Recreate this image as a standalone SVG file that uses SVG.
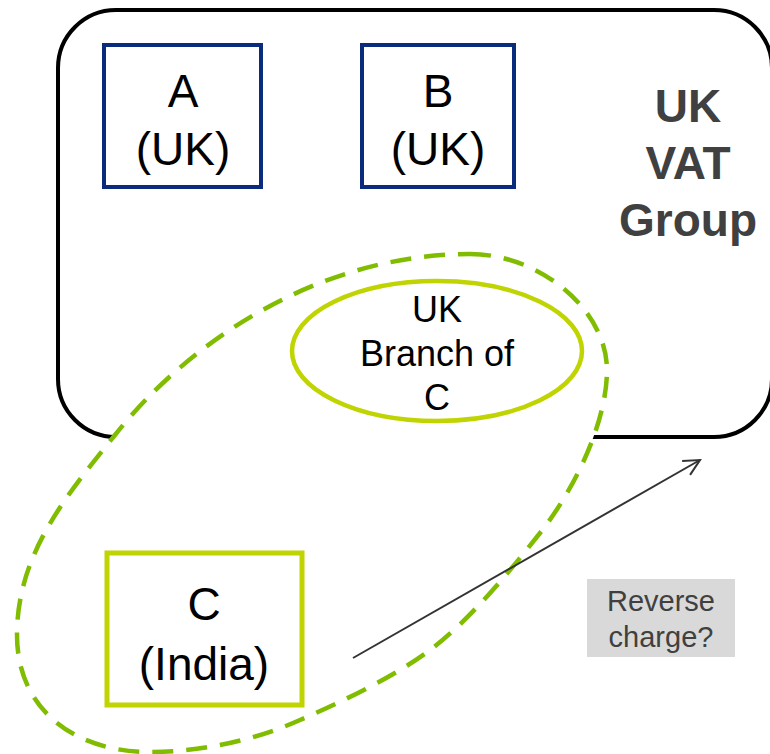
<svg xmlns="http://www.w3.org/2000/svg" width="770" height="754" viewBox="0 0 770 754">
<style>
.ent{fill:#fff;stroke:#0B2C7C;stroke-width:4}
.lbl{font-family:"Liberation Sans",Arial,sans-serif;fill:#000;text-anchor:middle}
.big{font-size:46px}
.mid{font-size:36px}
.grp{font-family:"Liberation Sans",Arial,sans-serif;font-size:46px;font-weight:bold;fill:#404040;text-anchor:middle}
.note{font-family:"Liberation Sans",Arial,sans-serif;font-size:29px;fill:#404040;text-anchor:middle}
</style>
<defs>
<marker id="open" viewBox="0 0 20 20" refX="18" refY="10" markerWidth="20" markerHeight="20" markerUnits="userSpaceOnUse" orient="auto">
<path d="M2,2 L18,10 L2,18" fill="none" stroke="#333" stroke-width="2"/>
</marker>
</defs>
<g id="vatgroup">
<rect x="58" y="10" width="714" height="427" rx="58" ry="58" fill="#fff" stroke="#000" stroke-width="4"/>
<text class="grp" x="688" y="122">UK</text>
<text class="grp" x="688" y="179">VAT</text>
<text class="grp" x="688" y="236">Group</text>
</g>
<g id="nodeA">
<rect class="ent" x="104" y="45" width="157" height="142"/>
<text class="lbl big" x="183" y="107">A</text>
<text class="lbl big" x="183" y="165">(UK)</text>
</g>
<g id="nodeB">
<rect class="ent" x="362" y="45" width="152" height="142"/>
<text class="lbl big" x="438" y="107">B</text>
<text class="lbl big" x="438" y="165">(UK)</text>
</g>
<g id="entityC">
<path d="M470,254 C540,254 607,310 607,370 C607,420 577,486 540,533 C509,572 470,620 430,650 C394,677 341,702 300,720 C254.5,740.5 200,752 150,752 C75,752 17,710 17,635 C17,555 65,497 115,435 C189,341 320,254 470,254 Z" fill="#fff" stroke="#80BC00" stroke-width="4.5" stroke-dasharray="21 13"/>
</g>
<g id="branch">
<ellipse cx="437" cy="351" rx="145" ry="70" fill="#fff" stroke="#BFD400" stroke-width="4.5"/>
<text class="lbl mid" x="437" y="322">UK</text>
<text class="lbl mid" x="437" y="366">Branch of</text>
<text class="lbl mid" x="437" y="410">C</text>
</g>
<g id="nodeC">
<rect x="107" y="553" width="195" height="152" fill="#fff" stroke="#BFD400" stroke-width="5"/>
<text class="lbl big" x="204" y="620">C</text>
<text class="lbl big" x="204" y="680">(India)</text>
</g>
<g id="connectors">
<line x1="353" y1="658" x2="700" y2="460" stroke="#333" stroke-width="2" marker-end="url(#open)"/>
</g>
<g id="note">
<rect x="587" y="579" width="148" height="78" fill="#D9D9D9"/>
<text class="note" x="661" y="611">Reverse</text>
<text class="note" x="661" y="647">charge?</text>
</g>
</svg>
